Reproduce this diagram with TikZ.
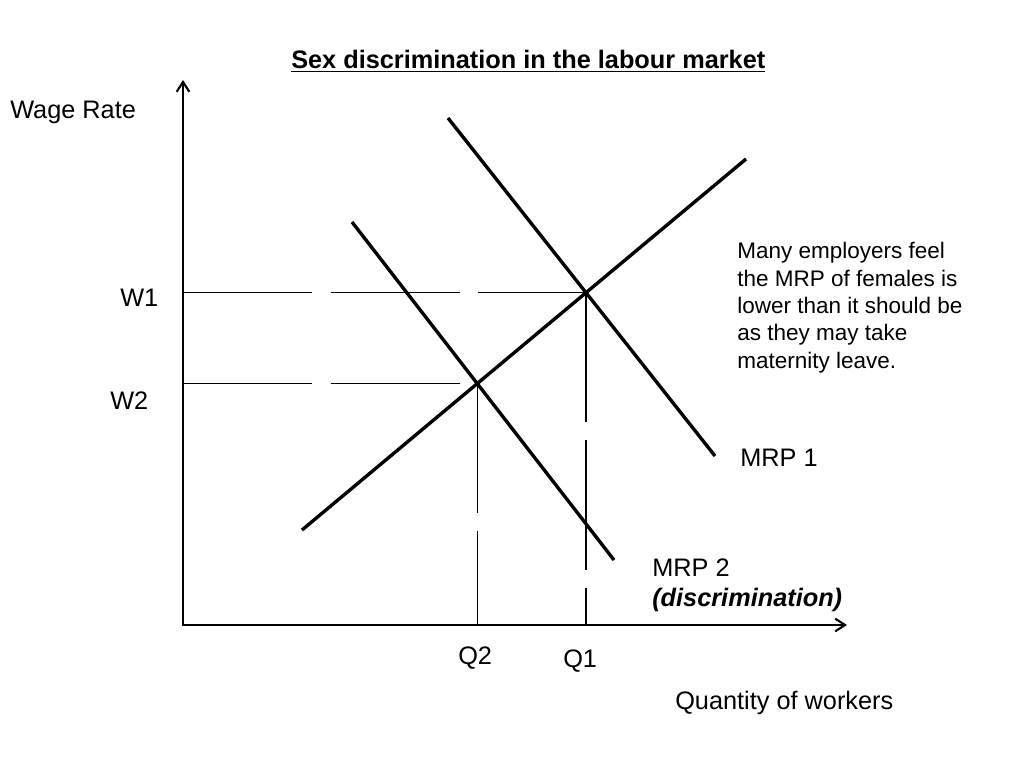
\documentclass[tikz,border=0pt]{standalone}
\usepackage{fontspec}
\setmainfont{Liberation Sans}
\usetikzlibrary{arrows.meta}
\definecolor{ink}{RGB}{0,0,0}
\tikzset{
  axis/.style={draw=ink,line width=2.1pt,{Straight Barb[length=7pt,width=9pt,line width=1.5pt]}-{Straight Barb[length=7pt,width=9pt,line width=1.5pt]}},
  curve/.style={draw=ink,line width=2.4pt},
  guide/.style={draw=ink,line width=0.9pt,dash pattern=on 92pt off 13pt},
  lbl/.style={anchor=base west,inner sep=0pt,font=\fontsize{18}{22}\selectfont},
  note/.style={anchor=north west,inner sep=0pt,align=left,font=\fontsize{16}{19.5}\selectfont}
}
\begin{document}
\begin{tikzpicture}[x=0.025cm,y=-0.025cm]
  \useasboundingbox (0,0) rectangle (1024,768);
  % axes
  \coordinate (origin) at (183,625);
  \coordinate (ytip) at (183,80);
  \coordinate (xtip) at (847,625);
  \draw[axis] (ytip) -- (origin) -- (xtip);
  % supply and the two MRP curves
  \coordinate (s0) at (302,530);  \coordinate (s1) at (746,159);
  \coordinate (m1a) at (448,118); \coordinate (m1b) at (715,456);
  \coordinate (m2a) at (352,222); \coordinate (m2b) at (614,560);
  \draw[curve] (s0) -- (s1);
  \draw[curve] (m1a) -- (m1b);
  \draw[curve] (m2a) -- (m2b);
  \coordinate (eq1) at (intersection of s0--s1 and m1a--m1b);
  \coordinate (eq2) at (intersection of s0--s1 and m2a--m2b);
  % wage and quantity guides
  \draw[guide] (origin |- eq1) -- (eq1);
  \draw[guide] (origin |- eq2) -- (eq2);
  \draw[guide] (eq1) -- (eq1 |- origin);
  \draw[guide] (eq2) -- (eq2 |- origin);
  % labels
  \node[lbl,font=\bfseries\fontsize{18}{22}\selectfont] (title) at (291,69) {\underline{Sex discrimination in the labour market}};
  \node[lbl] (wage) at (10,119) {Wage Rate};
  \node[lbl] (w1) at (120,306) {W1};
  \node[lbl] (w2) at (110,409) {W2};
  \node[lbl] (q2) at (458,664) {Q2};
  \node[lbl] (q1) at (563,667) {Q1};
  \node[lbl] (mrp1) at (740,466) {MRP 1};
  \node[lbl] (mrp2) at (652,576) {MRP 2};
  \node[lbl,font=\bfseries\itshape\fontsize{18}{22}\selectfont] (disc) at (652,606) {(discrimination)};
  \node[lbl] (qty) at (675,709) {Quantity of workers};
  \node[note] (remark) at (737,242) {Many employers feel\\the MRP of females is\\lower than it should be\\as they may take\\maternity leave.};
\end{tikzpicture}
\end{document}
